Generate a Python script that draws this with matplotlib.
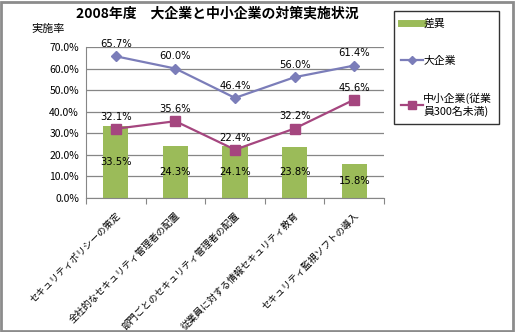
import matplotlib
matplotlib.use('Agg')
import matplotlib.pyplot as plt
from matplotlib.lines import Line2D
from matplotlib.patches import Rectangle
from matplotlib.ticker import FuncFormatter

plt.rcParams['font.family'] = ['Noto Sans CJK JP', 'DejaVu Sans']

# Data
categories = ['セキュリティポリシーの策定',
              '全社的なセキュリティ管理者の配置',
              '部門ごとのセキュリティ管理者の配置',
              '従業員に対する情報セキュリティ教育',
              'セキュリティ監視ソフトの導入']
diff = [33.5, 24.3, 24.1, 23.8, 15.8]
large = [65.7, 60.0, 46.4, 56.0, 61.4]
sme = [32.1, 35.6, 22.4, 32.2, 45.6]

W, H = 515, 332
fig = plt.figure(figsize=(W / 100, H / 100), dpi=100)
ax = fig.add_axes([86 / W, 1 - 198 / H, 298 / W, 151 / H])

c_bar = '#9BBB59'
c_large = '#7B7DB9'
c_sme = '#A5467F'

x = list(range(len(categories)))
ax.bar(x, diff, width=0.42, color=c_bar, zorder=2)
ax.plot(x, large, color=c_large, lw=1.6, marker='D', ms=5.5, zorder=3)
ax.plot(x, sme, color=c_sme, lw=1.6, marker='s', ms=6.5, zorder=3)

for i, v in enumerate(diff):
    ax.text(i, v / 2, f'{v:.1f}%', ha='center', va='center', fontsize=7.2,
            family='DejaVu Sans', zorder=4)
for i, v in enumerate(large):
    ax.text(i, v + 3.3, f'{v:.1f}%', ha='center', va='bottom', fontsize=7.2,
            family='DejaVu Sans', zorder=4)
for i, v in enumerate(sme):
    ax.text(i, v + 3.3, f'{v:.1f}%', ha='center', va='bottom', fontsize=7.2,
            family='DejaVu Sans', zorder=4)

ax.set_xlim(-0.5, len(categories) - 0.5)
ax.set_ylim(0, 70)
ax.set_yticks(range(0, 71, 10))
ax.yaxis.set_major_formatter(FuncFormatter(lambda v, p: f'{v:.1f}%'))
ax.grid(axis='y', color='#868686', lw=0.9, zorder=1)
ax.set_axisbelow(True)
for s in ['top', 'right']:
    ax.spines[s].set_visible(False)
ax.spines['left'].set_color('#868686')
ax.spines['bottom'].set_color('#868686')
ax.tick_params(axis='y', labelsize=7.5, length=0, pad=5)
ax.set_xticks([i - 0.5 for i in range(len(categories) + 1)], minor=False)
ax.set_xticklabels([])
ax.tick_params(axis='x', length=4, color='#868686', direction='out')
for i, c in enumerate(categories):
    ax.text(i, -6, c, rotation=45, ha='right', va='top', rotation_mode='anchor',
            fontsize=6.8, transform=ax.transData)

fig.text(217 / W, 1 - 14 / H, '2008年度　大企業と中小企業の対策実施状況',
         ha='center', va='center', fontsize=10, fontweight='bold')
fig.text(31 / W, 1 - 29 / H, '実施率', ha='left', va='center', fontsize=8)

handles = [Line2D([], [], color=c_bar, lw=5),
           Line2D([], [], color=c_large, lw=1.6, marker='D', ms=4),
           Line2D([], [], color=c_sme, lw=1.6, marker='s', ms=6)]
labels = ['差異', '大企業', '中小企業(従業\n員300名未満)']
leg = fig.legend(handles, labels, loc='upper left',
                 bbox_to_anchor=(394 / W, 1 - 11 / H), fontsize=7.8,
                 frameon=True, fancybox=False, borderaxespad=0,
                 labelspacing=2.5, handlelength=2.0, handletextpad=0.05,
                 borderpad=0.65)
leg.get_frame().set_edgecolor('black')
leg.get_frame().set_linewidth(1.0)

fig.patches.append(Rectangle((1 / W, 1 / H), 1 - 3 / W, 1 - 3 / H,
                             transform=fig.transFigure, fill=False,
                             edgecolor='#8C8C8C', lw=2))

fig.savefig('out.png', dpi=100)
